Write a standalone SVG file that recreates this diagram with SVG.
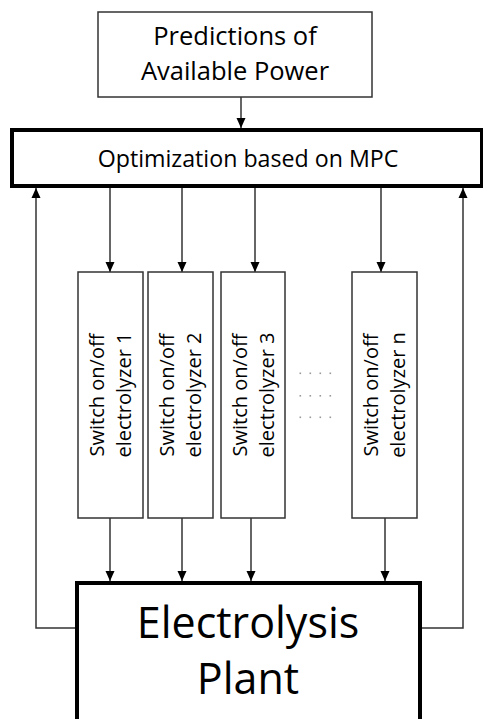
<svg xmlns="http://www.w3.org/2000/svg" width="483" height="719" viewBox="0 0 483 719">
<style>
text{font-family:"Open Sans","Noto Sans","Liberation Sans",sans-serif;fill:#000}
.thin{fill:#fff;stroke:#333;stroke-width:1.5}
.thick{fill:#fff;stroke:#000;stroke-width:4}
.conn{fill:none;stroke:#333;stroke-width:1.5}
.arr{marker-end:url(#ah)}
.vt{font-size:20px;text-anchor:middle}
.dot{fill:#999}
</style>
<defs>
<marker id="ah" markerUnits="userSpaceOnUse" markerWidth="10" markerHeight="10" refX="10" refY="5" orient="auto">
<path d="M0,0.5 L10,5 L0,9.5 z" fill="#000"/>
</marker>
</defs>
<rect width="483" height="719" fill="#fff"/>
<g id="connectors">
<line class="conn arr" x1="241" y1="97" x2="241" y2="128"/>
<line class="conn arr" x1="110" y1="188" x2="110" y2="272"/>
<line class="conn arr" x1="182" y1="188" x2="182" y2="272"/>
<line class="conn arr" x1="255" y1="188" x2="255" y2="272"/>
<line class="conn arr" x1="381" y1="188" x2="381" y2="272"/>
<line class="conn arr" x1="110" y1="518" x2="110" y2="581"/>
<line class="conn arr" x1="182" y1="518" x2="182" y2="581"/>
<line class="conn arr" x1="251" y1="518" x2="251" y2="581"/>
<line class="conn arr" x1="385" y1="518" x2="385" y2="581"/>
<polyline class="conn arr" points="75,628 36,628 36,188"/>
<polyline class="conn arr" points="421,628 463,628 463,188"/>
</g>
<g id="predictions">
<rect class="thin" x="98" y="12" width="274" height="85"/>
<text x="235" y="45" font-size="25.5" text-anchor="middle">Predictions of</text>
<text x="235" y="80" font-size="25.5" text-anchor="middle">Available Power</text>
</g>
<g id="optimization">
<rect class="thick" x="12" y="130" width="470" height="56"/>
<text x="248" y="167" font-size="23.2" text-anchor="middle">Optimization based on MPC</text>
</g>
<g id="switch1">
<rect class="thin" x="78" y="272" width="65" height="246"/>
<g transform="translate(110.5,395) rotate(-90)">
<text class="vt" x="0" y="-7">Switch on/off</text>
<text class="vt" x="0" y="20">electrolyzer 1</text>
</g>
</g>
<g id="switch2">
<rect class="thin" x="148" y="272" width="65" height="246"/>
<g transform="translate(180.5,395) rotate(-90)">
<text class="vt" x="0" y="-7">Switch on/off</text>
<text class="vt" x="0" y="20">electrolyzer 2</text>
</g>
</g>
<g id="switch3">
<rect class="thin" x="221" y="272" width="64" height="246"/>
<g transform="translate(253,395) rotate(-90)">
<text class="vt" x="0" y="-6">Switch on/off</text>
<text class="vt" x="0" y="21">electrolyzer 3</text>
</g>
</g>
<g id="switchn">
<rect class="thin" x="352" y="272" width="65" height="246"/>
<g transform="translate(384.5,395) rotate(-90)">
<text class="vt" x="0" y="-6.5">Switch on/off</text>
<text class="vt" x="0" y="20.5">electrolyzer n</text>
</g>
</g>
<g id="dots">
<rect class="dot" x="299.5" y="372.5" width="1.6" height="1.6"/>
<rect class="dot" x="309.5" y="372.5" width="1.6" height="1.6"/>
<rect class="dot" x="319.5" y="372.5" width="1.6" height="1.6"/>
<rect class="dot" x="329.5" y="372.5" width="1.6" height="1.6"/>
<rect class="dot" x="299.5" y="395" width="1.6" height="1.6"/>
<rect class="dot" x="309.5" y="395" width="1.6" height="1.6"/>
<rect class="dot" x="319.5" y="395" width="1.6" height="1.6"/>
<rect class="dot" x="329.5" y="395" width="1.6" height="1.6"/>
<rect class="dot" x="299.5" y="416.5" width="1.6" height="1.6"/>
<rect class="dot" x="309.5" y="416.5" width="1.6" height="1.6"/>
<rect class="dot" x="319.5" y="416.5" width="1.6" height="1.6"/>
<rect class="dot" x="329.5" y="416.5" width="1.6" height="1.6"/>
</g>
<g id="plant">
<rect class="thick" x="77" y="583" width="343" height="160"/>
<text x="248" y="638" font-size="43" text-anchor="middle">Electrolysis</text>
<text x="248" y="694" font-size="43" text-anchor="middle">Plant</text>
</g>
</svg>
